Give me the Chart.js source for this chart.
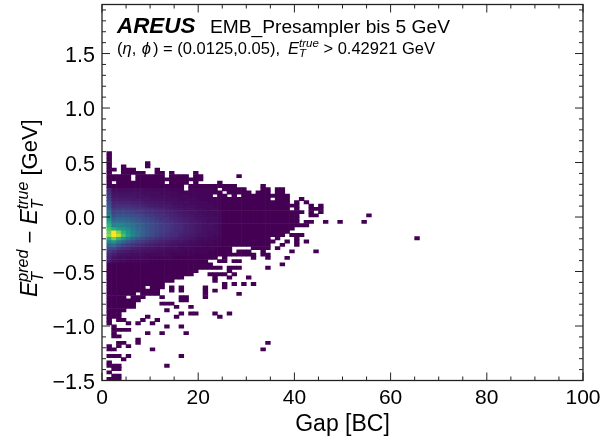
<!DOCTYPE html>
<html>
<head>
<meta charset="utf-8">
<script src="https://cdn.jsdelivr.net/npm/chart.js@4/dist/chart.umd.min.js"></script>
<style>
  html, body { margin: 0; padding: 0; background: #fff; }
  canvas { display: block; }
</style>
</head>
<body>
<canvas id="myChart" width="616" height="441"></canvas>
<script>
// Histogram bins: gap bins are 1 BC wide, energy bins are 0.03 GeV tall.
// A cell (k, n) covers gap k..k+1 and energy 0.03*n..0.03*(n+1)
var gapBinWidth = 1;
var diffBinHeight = 0.03;

// Filled range of each gap column, k = 1..40
var columnTop = [19, 14, 12, 13, 14, 14, 13, 13, 12, 12, 14, 13, 11, 13, 12, 12, 12, 11, 13, 12,
                 9, 9, 9, 9, 9, 9, 9, 8, 8, 7, 6, 7, 9, 8, 6, 8, 8, 6, 3, 4];
var columnBottom = [-33, -31, -31, -29, -28, -28, -26, -25, -24, -24, -23, -22, -20, -20, -19, -19, -18, -18, -17, -16,
                    -16, -13, -13, -13, -13, -12, -12, -12, -12, -12, -10, -10, -11, -10, -8, -7, -7, -5, -4, -3];

// Empty cells inside the filled range
var holeCells = [[2,10],[2,13],[6,12],[6,11],[13,10],[17,9],[17,8],[18,10],[20,10],[23,6],[24,8],[25,7],
                 [26,6],[28,6],[35,5],[39,2],[5,-25],[7,-24],[9,-22],[24,-13],[27,-10],[27,-11],[28,-10],
                 [29,-10],[30,-10],[35,-7],[37,-7]];

// Single counts outside the filled range
var strayCells = [[4,15],[4,14],[9,16],[9,15],[24,10],[28,12],[41,5],[42,4],[43,3],[45,3],[43,2],[44,2],[45,2],
                  [41,1],[43,1],[45,1],[43,0],[44,0],[55,0],[42,-2],[43,-2],[46,-2],[49,-2],[54,-2],[41,-3],[42,-3],
                  [41,-6],[39,-6],[65,-7],[42,-8],[40,-6],[40,-7],[40,-8],[40,-9],[38,-8],[37,-9],[36,-10],
                  [39,-11],[44,-11],[31,-12],[31,-13],[33,-12],[34,-12],[34,-13],[38,-13],[24,-14],[25,-14],[27,-14],
                  [28,-14],[22,-15],[37,-15],[22,-16],[23,-16],[24,-16],[26,-16],[27,-16],[28,-16],[34,-16],[26,-17],
                  [22,-18],[23,-18],[24,-18],[25,-18],[27,-18],[23,-19],[26,-19],[30,-19],[23,-20],[25,-21],[27,-21],
                  [29,-21],[31,-21],[21,-22],[14,-22],[16,-22],[25,-22],[21,-23],[14,-23],[16,-23],[23,-23],[11,-24],
                  [21,-24],[28,-24],[12,-25],[16,-25],[17,-25],[21,-25],[16,-26],[17,-26],[12,-27],[13,-27],[14,-27],
                  [15,-28],[18,-28],[13,-29],[16,-30],[18,-30],[19,-30],[23,-30],[26,-30],[9,-31],[15,-31],[24,-31],
                  [3,-32],[4,-32],[8,-32],[11,-32],[5,-33],[7,-33],[10,-33],[2,-34],[13,-34],[16,-34],[2,-35],[3,-35],
                  [4,-35],[5,-35],[2,-36],[9,-36],[12,-36],[17,-36],[2,-37],[3,-37],[7,-38],[3,-39],[4,-39],[7,-39],
                  [34,-39],[1,-40],[3,-40],[5,-40],[1,-41],[2,-41],[10,-41],[33,-41],[1,-43],[2,-43],[3,-43],[5,-43],
                  [16,-43],[4,-44],[1,-45],[1,-46],[2,-46],[3,-46],[13,-46],[2,-47],[3,-47],[1,-48],[2,-49],[3,-49],
                  [1,-50],[2,-50],[3,-50]];

// Density of the core, percent of the peak. Rows n = 8 down to -14, columns k = 1..24
var coreTopBin = 8;
var coreRows = [
  [10, 3, 3, 3, 3, 3, 3, 3, 2, 2, 2, 2, 2, 1, 1, 1, 1, 1, 1, 1, 1, 1, 0, 0],
  [12, 4, 4, 4, 4, 4, 4, 3, 3, 3, 3, 2, 2, 2, 2, 1, 1, 1, 1, 1, 1, 1, 1, 0],
  [14, 5, 5, 5, 5, 5, 4, 4, 4, 3, 3, 3, 3, 2, 2, 2, 2, 1, 1, 1, 1, 1, 1, 1],
  [17, 7, 7, 7, 7, 6, 6, 5, 5, 4, 4, 4, 3, 3, 3, 2, 2, 2, 2, 1, 1, 1, 1, 1],
  [20, 9, 9, 9, 9, 8, 8, 7, 6, 6, 5, 5, 4, 4, 3, 3, 3, 2, 2, 2, 2, 1, 1, 1],
  [24, 11, 12, 12, 12, 11, 10, 9, 8, 7, 7, 6, 6, 5, 4, 4, 3, 3, 3, 2, 2, 2, 1, 1],
  [28, 14, 15, 16, 15, 14, 13, 12, 11, 10, 9, 8, 7, 6, 5, 5, 4, 4, 3, 3, 2, 2, 2, 1],
  [33, 18, 19, 20, 19, 18, 16, 15, 13, 12, 11, 10, 9, 8, 7, 6, 5, 4, 4, 3, 3, 2, 2, 2],
  [39, 22, 24, 24, 23, 21, 20, 18, 16, 15, 13, 12, 10, 9, 8, 7, 6, 5, 4, 4, 3, 3, 2, 2],
  [45, 27, 29, 29, 27, 25, 23, 20, 19, 17, 15, 13, 12, 10, 9, 8, 7, 6, 5, 4, 4, 3, 3, 2],
  [52, 33, 35, 34, 32, 29, 26, 23, 21, 19, 17, 15, 13, 12, 10, 9, 8, 6, 6, 5, 4, 3, 3, 2],
  [58, 40, 42, 40, 37, 33, 29, 26, 23, 21, 18, 16, 14, 13, 11, 10, 8, 7, 6, 5, 4, 4, 3, 2],
  [64, 55, 50, 47, 42, 36, 31, 27, 24, 21, 19, 16, 15, 13, 11, 10, 8, 7, 6, 5, 4, 4, 3, 2],
  [70, 95, 72, 57, 47, 39, 33, 28, 24, 21, 18, 16, 14, 12, 11, 9, 8, 7, 6, 5, 4, 3, 3, 2],
  [74, 100, 82, 63, 50, 40, 33, 27, 23, 20, 17, 15, 13, 11, 10, 8, 7, 6, 5, 4, 4, 3, 2, 2],
  [55, 70, 56, 46, 36, 29, 24, 20, 17, 15, 13, 11, 10, 9, 8, 7, 6, 5, 4, 3, 3, 2, 2, 1],
  [40, 46, 36, 29, 23, 19, 16, 14, 12, 10, 9, 8, 7, 6, 5, 5, 4, 3, 3, 2, 2, 2, 1, 1],
  [28, 30, 23, 18, 15, 13, 11, 9, 8, 7, 6, 6, 5, 4, 4, 3, 3, 2, 2, 2, 1, 1, 1, 1],
  [20, 19, 14, 11, 10, 8, 7, 6, 5, 5, 4, 4, 3, 3, 3, 2, 2, 2, 1, 1, 1, 1, 1, 0],
  [14, 11, 8, 7, 6, 5, 5, 4, 4, 3, 3, 3, 2, 2, 2, 2, 1, 1, 1, 1, 1, 0, 0, 0],
  [10, 7, 5, 4, 4, 3, 3, 3, 2, 2, 2, 2, 2, 1, 1, 1, 1, 1, 0, 0, 0, 0, 0, 0],
  [8, 4, 3, 3, 2, 2, 2, 2, 2, 1, 1, 1, 1, 1, 0, 0, 0, 0, 0, 0, 0, 0, 0, 0],
  [6, 3, 2, 2, 1, 1, 1, 1, 1, 0, 0, 0, 0, 0, 0, 0, 0, 0, 0, 0, 0, 0, 0, 0]
];

// Tick labels
var xTickValues = [0, 20, 40, 60, 80, 100];
var xTickLabels = ['0', '20', '40', '60', '80', '100'];
var yTickValues = [-1.5, -1, -0.5, 0, 0.5, 1, 1.5];
var yTickLabels = ['\u22121.5', '\u22121.0', '\u22120.5', '0.0', '0.5', '1.0', '1.5'];

// Viridis colour map, 11 stops
var viridisStops = [[68,1,84],[72,40,120],[62,74,137],[49,104,142],[38,130,142],[31,158,137],
                    [53,183,121],[110,206,88],[181,222,43],[233,229,34],[253,231,37]];

function viridis(v) {
    var p = Math.min(Math.max(v, 0), 1) * (viridisStops.length - 1);
    var i = Math.min(Math.floor(p), viridisStops.length - 2);
    var f = p - i;
    var a = viridisStops[i], b = viridisStops[i + 1];
    return 'rgb(' + Math.round(a[0] + (b[0] - a[0]) * f) + ',' +
                    Math.round(a[1] + (b[1] - a[1]) * f) + ',' +
                    Math.round(a[2] + (b[2] - a[2]) * f) + ')';
}

// Collect the cells
var filled = {};
for (var c = 0; c < columnTop.length; c++) {
    for (var r = columnBottom[c]; r <= columnTop[c]; r++) {
        filled[(c + 1) + ':' + r] = [c + 1, r];
    }
}
holeCells.forEach(function (h) { delete filled[h[0] + ':' + h[1]]; });
strayCells.forEach(function (s) { filled[s[0] + ':' + s[1]] = s; });

var cells = Object.keys(filled).map(function (key) {
    var k = filled[key][0], n = filled[key][1];
    var row = coreRows[coreTopBin - n];
    var level = row && row[k - 1] !== undefined ? row[k - 1] : 0;
    return { x: k + gapBinWidth / 2, y: [n * diffBinHeight, (n + 1) * diffBinHeight], level: level };
});

var axisColor = '#222';

// Inward ticks on all four sides, from the chart's own scales
var insideTicks = {
    id: 'insideTicks',
    afterDraw: function (chart) {
        var ctx = chart.ctx, a = chart.chartArea;
        ctx.save();
        ctx.strokeStyle = axisColor;
        ctx.lineWidth = 1.3;
        ctx.strokeRect(a.left, a.top, a.right - a.left, a.bottom - a.top);
        ctx.lineWidth = 1;
        ctx.beginPath();
        chart.scales.x.ticks.forEach(function (t) {
            var len = xTickValues.indexOf(t.value) >= 0 ? 8 : 4;
            var px = chart.scales.x.getPixelForValue(t.value);
            ctx.moveTo(px, a.bottom); ctx.lineTo(px, a.bottom - len);
            ctx.moveTo(px, a.top); ctx.lineTo(px, a.top + len);
        });
        chart.scales.y.ticks.forEach(function (t) {
            var major = yTickValues.some(function (v) { return Math.abs(v - t.value) < 1e-6; });
            var len = major ? 8 : 4;
            var py = chart.scales.y.getPixelForValue(t.value);
            ctx.moveTo(a.left, py); ctx.lineTo(a.left + len, py);
            ctx.moveTo(a.right, py); ctx.lineTo(a.right - len, py);
        });
        ctx.stroke();
        ctx.restore();
    }
};

// Draws a row of text pieces, each with its own font and baseline shift
function drawRuns(ctx, runs, x, y) {
    runs.forEach(function (run) {
        ctx.font = run.font;
        ctx.fillText(run.text, x + (run.dx || 0), y + (run.dy || 0));
        if (!run.overlap) {
            x += ctx.measureText(run.text).width + (run.dx || 0);
        }
    });
    return x;
}

var face = '"Liberation Sans"';
var labels = {
    id: 'labels',
    afterDraw: function (chart) {
        var ctx = chart.ctx;
        ctx.save();
        ctx.fillStyle = '#000';
        ctx.textBaseline = 'alphabetic';
        ctx.textAlign = 'left';

        // Header
        ctx.font = 'italic bold 22.4px ' + face;
        ctx.fillText('AREUS', 117, 33);
        ctx.font = '19.2px ' + face;
        ctx.fillText('EMB_Presampler bis 5 GeV', 210, 32.5);
        drawRuns(ctx, [
            { text: '(', font: '16.5px ' + face },
            { text: '\u03b7', font: 'italic 16.5px ' + face },
            { text: ', ', font: '16.5px ' + face },
            { text: '\u03d5', font: 'italic 16.5px ' + face, dx: 1 },
            { text: ') = (0.0125,0.05),', font: '16.5px ' + face, dx: 2 },
            { text: 'E', font: 'italic 16.5px ' + face, dx: 8 },
            { text: 'T', font: 'italic 11.5px ' + face, dy: 3, overlap: true },
            { text: 'true', font: 'italic 11.5px ' + face, dy: -7 },
            { text: ' > 0.42921 GeV', font: '16.5px ' + face }
        ], 117, 54);

        // Y axis title, rotated
        ctx.translate(37, 297);
        ctx.rotate(-Math.PI / 2);
        drawRuns(ctx, [
            { text: 'E', font: 'italic 23px ' + face },
            { text: 'T', font: 'italic 16px ' + face, dy: 6, overlap: true },
            { text: 'pred', font: 'italic 16px ' + face, dy: -9 },
            { text: ' \u2212 ', font: '22px ' + face },
            { text: 'E', font: 'italic 23px ' + face },
            { text: 'T', font: 'italic 16px ' + face, dy: 6, overlap: true },
            { text: 'true', font: 'italic 16px ' + face, dy: -9 },
            { text: ' [GeV]', font: '22px ' + face }
        ], 0, 0);
        ctx.restore();
    }
};

var ctx = document.getElementById('myChart').getContext('2d');
var myChart = new Chart(ctx, {
    type: 'bar',
    data: {
        datasets: [{
            data: cells,
            backgroundColor: function (c) { return viridis(c.raw.level / 100); },
            borderWidth: 0,
            barThickness: 4.81,
            barPercentage: 1,
            categoryPercentage: 1,
            inflateAmount: 0.3
        }]
    },
    plugins: [insideTicks, labels],
    options: {
        responsive: false,
        animation: false,
        layout: { padding: { top: 4.5, right: 33, left: 0, bottom: 0 } },
        plugins: { legend: { display: false }, tooltip: { enabled: false } },
        scales: {
            x: {
                type: 'linear',
                offset: false,
                min: 0,
                max: 100,
                grid: { display: false, drawTicks: false },
                border: { display: false },
                afterFit: function (s) { s.height = 60.5; s.paddingLeft = 0; s.paddingRight = 0; },
                title: { display: true, text: 'Gap [BC]', color: '#000', font: { family: face, size: 23 }, padding: { top: 0, bottom: 3 } },
                ticks: {
                    stepSize: 5,
                    autoSkip: false,
                    maxRotation: 0,
                    padding: 5,
                    color: '#000',
                    font: { family: face, size: 21 },
                    callback: function (v) {
                        var i = xTickValues.indexOf(v);
                        return i >= 0 ? xTickLabels[i] : '';
                    }
                }
            },
            y: {
                min: -1.5,
                max: 1.95,
                grid: { display: false, drawTicks: false },
                border: { display: false },
                afterFit: function (s) { s.width = 102; s.paddingTop = 0; s.paddingBottom = 0; },
                ticks: {
                    stepSize: 0.1,
                    includeBounds: false,
                    autoSkip: false,
                    padding: 7,
                    color: '#000',
                    // two-line label with a small line height nudges the text down
                    font: { family: face, size: 21.5, lineHeight: '5px' },
                    callback: function (v) {
                        for (var i = 0; i < yTickValues.length; i++) {
                            if (Math.abs(yTickValues[i] - v) < 1e-6) return ['', yTickLabels[i]];
                        }
                        return '';
                    }
                }
            }
        }
    }
});
</script>
</body>
</html>
